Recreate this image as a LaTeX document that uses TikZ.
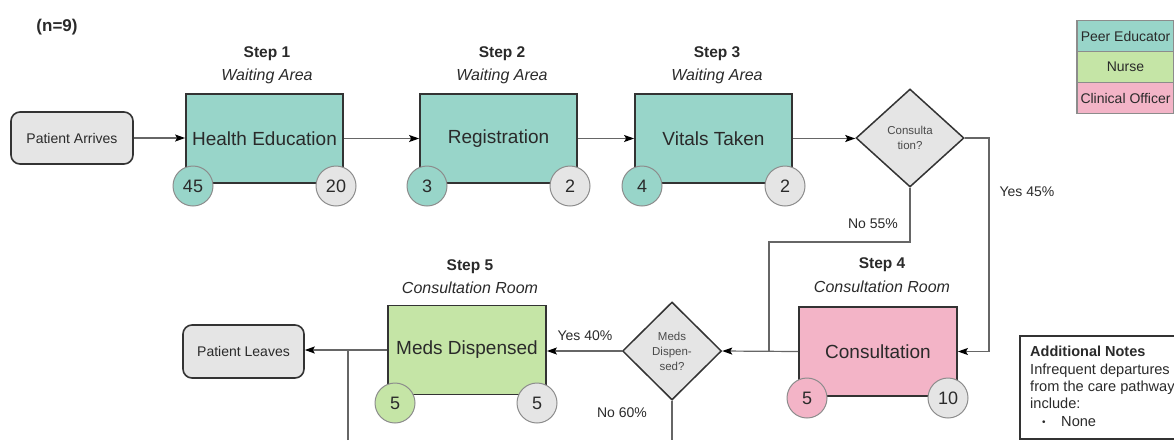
\documentclass[tikz,border=0pt]{standalone}
\usepackage{fontspec}
\setmainfont{Liberation Sans}
\usetikzlibrary{shapes.geometric,arrows.meta}
\definecolor{teal1}{HTML}{98D5C9}
\definecolor{green1}{HTML}{C5E5A6}
\definecolor{pink1}{HTML}{F3B4C7}
\definecolor{gray1}{HTML}{E5E5E5}
\definecolor{edge1}{HTML}{333333}
\definecolor{conncol}{HTML}{666666}
\definecolor{txt}{HTML}{2A2A2A}
\begin{document}
\begin{tikzpicture}[x=1pt,y=-1pt,
  task/.style={draw=edge1,line width=1.8pt,minimum width=157pt,minimum height=89pt,inner sep=0pt,font=\fontsize{19}{22}\selectfont,text=txt},
  term/.style={draw=edge1,line width=1.6pt,rounded corners=9pt,fill=gray1,minimum width=122pt,minimum height=52pt,inner sep=0pt,font=\fontsize{14}{16}\selectfont,text=txt},
  cnt/.style={circle,draw=black!45,line width=1pt,minimum size=40pt,inner sep=0pt,font=\fontsize{18}{20}\selectfont,text=txt},
  dec/.style={diamond,draw=edge1,line width=1.5pt,fill=gray1,minimum width=108pt,minimum height=98pt,inner sep=0pt,align=center,font=\fontsize{11.5}{15}\selectfont,text=txt!85},
  steplbl/.style={font=\bfseries\fontsize{15.5}{18}\selectfont,text=txt},
  loclbl/.style={font=\itshape\fontsize{16}{18}\selectfont,text=txt},
  elbl/.style={font=\fontsize{14}{16}\selectfont,text=txt},
  leg/.style={draw=black!45,line width=1.2pt,minimum width=97pt,minimum height=31pt,inner sep=0pt,font=\fontsize{14}{16}\selectfont,text=txt},
  noteln/.style={anchor=base west,inner sep=0pt,font=\fontsize{14.6}{17}\selectfont,text=txt},
  link/.style={draw=conncol,line width=1.2pt},
  arr/.style={link,-{Stealth[length=10pt,width=7pt,inset=2pt,color=black]}}
]
\useasboundingbox (0,0) rectangle (1174,440);

% title
\node[font=\bfseries\fontsize{17}{20}\selectfont,text=txt] (n9) at (57,27) {(n=9)};

% main nodes
\node[term] (start) at (72,138) {Patient Arrives};
\node[task,fill=teal1] (he) at (264.5,138.5) {Health Education};
\node[task,fill=teal1] (reg) at (498.5,138.5) {Registration};
\node[task,fill=teal1] (vit) at (713.5,138.5) {Vitals Taken};
\node[dec] (cq) at (910,138) {Consulta\\tion?};
\node[task,fill=pink1,minimum width=158pt] (con) at (878,351.5) {Consultation};
\node[dec,minimum width=99pt] (mq) at (672,351) {Meds\\Dispen-\\sed?};
\node[task,fill=green1,minimum width=158pt] (med) at (467,350) {Meds Dispensed};
\node[term,minimum width=121pt,minimum height=53pt] (lv) at (243.5,351.5) {Patient Leaves};

% counters
\node[cnt,fill=teal1] (he1) at (193,186) {45};
\node[cnt,fill=gray1] (he2) at (336,186) {20};
\node[cnt,fill=teal1] (reg1) at (427,186) {3};
\node[cnt,fill=gray1] (reg2) at (570,186) {2};
\node[cnt,fill=teal1] (vit1) at (642,186) {4};
\node[cnt,fill=gray1] (vit2) at (785,186) {2};
\node[cnt,fill=pink1] (con1) at (807,398) {5};
\node[cnt,fill=gray1] (con2) at (948,398) {10};
\node[cnt,fill=green1] (med1) at (395,403) {5};
\node[cnt,fill=gray1] (med2) at (537,403) {5};

% step labels
\node[steplbl] (s1) at (267,54) {Step 1};
\node[loclbl] (l1) at (267,76) {Waiting Area};
\node[steplbl] (s2) at (502,54) {Step 2};
\node[loclbl] (l2) at (502,76) {Waiting Area};
\node[steplbl] (s3) at (717,54) {Step 3};
\node[loclbl] (l3) at (717,76) {Waiting Area};
\node[steplbl] (s4) at (882,265) {Step 4};
\node[loclbl] (l4) at (882,287) {Consultation Room};
\node[steplbl] (s5) at (470,267) {Step 5};
\node[loclbl] (l5) at (470,288) {Consultation Room};

% connectors
\draw[arr] (start.east) -- (start.east -| he.west);
\draw[arr] (he) -- (reg);
\draw[arr] (reg) -- (vit);
\draw[arr] (vit.east) -- (vit.east -| cq.west);
\coordinate (yx) at (989,138);
\draw[arr] (cq.east) -- (yx) |- (con.east);
\coordinate (nbend) at (769,242);
\draw[link] (cq.south) |- (nbend) -- (nbend |- con.west);
\draw[arr] (con.west) -- (mq.east);
\draw[arr] (mq.west) -- (mq.west -| med.east);
\draw[arr] (med.west) -- (med.west -| lv.east);
\coordinate (nbot) at (672,440);
\draw[link] (mq.south) -- (nbot);
\coordinate (jx) at (348,350);
\coordinate (jbot) at (348,440);
\draw[link] (jbot) -- (jx);

% edge labels
\node[elbl] (y45) at (1027,192) {Yes 45\%};
\node[elbl] (n55) at (873,224) {No 55\%};
\node[elbl] (y40) at (585,336) {Yes 40\%};
\node[elbl] (n60) at (622,413) {No 60\%};

% legend
\node[leg,fill=teal1] (lg1) at (1125.5,36) {Peer Educator};
\node[leg,fill=green1] (lg2) at (1125.5,67) {Nurse};
\node[leg,fill=pink1] (lg3) at (1125.5,98) {Clinical Officer};

% notes
\node[draw=edge1,line width=1.5pt,minimum width=155pt,minimum height=103pt,inner sep=0pt,anchor=north west] (notes) at (1019,335) {};
\node[noteln,font=\bfseries\fontsize{14.5}{17}\selectfont] (nt1) at (1030,356) {Additional Notes};
\node[noteln] (nt2) at (1030,374) {Infrequent departures};
\node[noteln] (nt3) at (1030,391) {from the care pathway};
\node[noteln] (nt4) at (1030,408) {include:};
\node[noteln,font=\fontsize{10}{12}\selectfont] (nt5) at (1042,425) {•};
\node[noteln] (nt6) at (1061,426) {None};
\end{tikzpicture}
\end{document}
